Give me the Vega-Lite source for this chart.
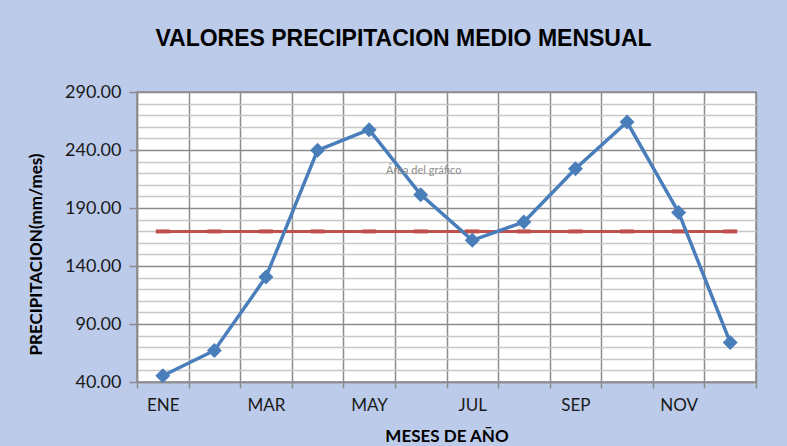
{
  "$schema": "https://vega.github.io/schema/vega-lite/v6.json",
  "width": 619,
  "height": 290,
  "autosize": "none",
  "padding": {"left": 137, "top": 92, "right": 31, "bottom": 64},
  "background": "#bccbea",
  "title": {
    "text": "VALORES PRECIPITACION MEDIO MENSUAL",
    "font": "Liberation Sans",
    "fontSize": 23,
    "fontWeight": "bold",
    "color": "#000000",
    "anchor": "middle",
    "dx": -43,
    "baseline": "alphabetic",
    "offset": 14
  },
  "config": {
    "view": {"stroke": "#8c8c8c", "strokeWidth": 1.5, "fill": "#ffffff"},
    "axis": {"labelFont": "Lato", "titleFont": "Lato", "labelColor": "#1a1a1a", "titleColor": "#000000"}
  },
  "data": {
    "values": [
      {"mes": "ENE", "precip": 45.4, "media": 169.8},
      {"mes": "FEB", "precip": 67.2, "media": 169.8},
      {"mes": "MAR", "precip": 130.5, "media": 169.8},
      {"mes": "ABR", "precip": 239.7, "media": 169.8},
      {"mes": "MAY", "precip": 257.5, "media": 169.8},
      {"mes": "JUN", "precip": 201.5, "media": 169.8},
      {"mes": "JUL", "precip": 162.1, "media": 169.8},
      {"mes": "AGO", "precip": 177.9, "media": 169.8},
      {"mes": "SEP", "precip": 223.9, "media": 169.8},
      {"mes": "OCT", "precip": 264.1, "media": 169.8},
      {"mes": "NOV", "precip": 186.2, "media": 169.8},
      {"mes": "DIC", "precip": 74.1, "media": 169.8}
    ]
  },
  "encoding": {
    "x": {
      "field": "mes",
      "type": "nominal",
      "sort": ["ENE","FEB","MAR","ABR","MAY","JUN","JUL","AGO","SEP","OCT","NOV","DIC"],
      "scale": {"type": "band", "paddingInner": 0, "paddingOuter": 0},
      "axis": {
        "title": "MESES DE AÑO",
        "titleFontSize": 17,
        "titleFontWeight": "bold",
        "titlePadding": 15,
        "labelFontSize": 17,
        "labelAngle": 0,
        "labelPadding": 9,
        "labelExpr": "indexof(['ENE','MAR','MAY','JUL','SEP','NOV'], datum.value) >= 0 ? datum.label : ''",
        "tickBand": "extent",
        "tickSize": 6,
        "tickColor": "#8c8c8c",
        "tickWidth": 1.5,
        "domainColor": "#8c8c8c",
        "domainWidth": 1.5,
        "grid": true,
        "gridColor": "#8c8c8c",
        "gridWidth": 1.5
      }
    }
  },
  "layer": [
    {
      "mark": {"type": "line", "color": "#c0504d", "strokeWidth": 3,
        "point": {"shape": "stroke", "size": 196, "strokeWidth": 4, "filled": false, "color": "#c0504d"}},
      "encoding": {
        "y": {
          "field": "media",
          "type": "quantitative",
          "scale": {"domain": [40, 290], "nice": false, "zero": false},
          "axis": {
            "title": "PRECIPITACION(mm/mes)",
            "titleFontSize": 17,
            "titleFontWeight": "bold",
            "titlePadding": 19,
            "titleY": 162,
            "labelFontSize": 18,
            "labelPadding": 8,
            "format": ".2f",
            "tickCount": 40,
            "labelOverlap": false,
            "values": [40,50,60,70,80,90,100,110,120,130,140,150,160,170,180,190,200,210,220,230,240,250,260,270,280,290],
            "labelExpr": "(datum.value - 40) % 50 == 0 ? datum.label : ''",
            "tickSize": 8,
            "tickColor": "#8c8c8c",
            "tickWidth": 1.5,
            "tickOpacity": {"condition": {"test": "(datum.value - 40) % 50 == 0", "value": 1}, "value": 0},
            "domainColor": "#8c8c8c",
            "domainWidth": 1.5,
            "grid": true,
            "gridWidth": 1.5,
            "gridColor": {"condition": {"test": "(datum.value - 40) % 50 == 0", "value": "#8c8c8c"}, "value": "#c8c8c8"}
          }
        }
      }
    },
    {
      "mark": {"type": "line", "color": "#4a7ebb", "strokeWidth": 3.5,
        "point": {"shape": "diamond", "size": 225, "filled": true, "color": "#4a7ebb"}},
      "encoding": {
        "y": {"field": "precip", "type": "quantitative"}
      }
    },
    {
      "data": {"values": [{"mes": "JUN", "y": 222, "t": "Área del gráfico"}]},
      "mark": {"type": "text", "font": "Lato", "fontSize": 11, "color": "#8c8c8c", "align": "center", "baseline": "middle", "dx": 3},
      "encoding": {
        "y": {"field": "y", "type": "quantitative"},
        "text": {"field": "t"}
      }
    }
  ]
}
